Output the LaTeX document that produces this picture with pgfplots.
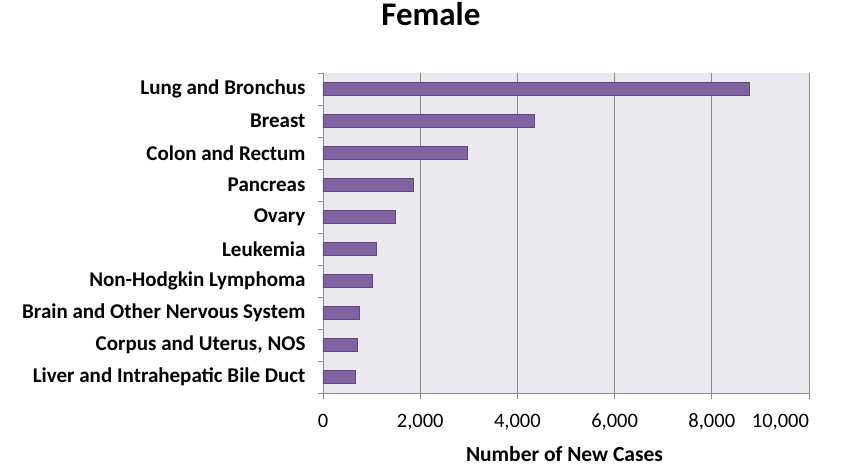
\documentclass[border=0pt]{standalone}
\usepackage{pgfplots}
\pgfplotsset{compat=1.18}
\usepackage{fontspec}
\setmainfont{Carlito}
\definecolor{barfill}{HTML}{8064A2}
\definecolor{baredge}{HTML}{5E4A7D}
\definecolor{plotbg}{HTML}{EBE8EF}
\definecolor{gridc}{HTML}{8A8A8A}
\begin{document}
\begin{tikzpicture}
\useasboundingbox (-323pt,-73pt) rectangle (530pt,393pt);
\begin{axis}[
  at={(0,0)}, anchor=south west,
  scale only axis, width=486pt, height=320pt,
  xbar, bar width=13pt,
  xmin=0, xmax=10000,
  ymin=-0.5, ymax=9.5,
  axis background/.style={fill=plotbg},
  axis x line*=bottom, axis y line*=left,
  axis line style={gridc, line width=0.8pt},
  xtick={0,2000,4000,6000,8000,10000},
  xticklabels={0,{2,000},{4,000},{6,000},{8,000},\makebox[0pt][r]{10,000}},
  scaled x ticks=false,
  xmajorgrids, major grid style={gridc, line width=0.8pt},
  xticklabel style={font=\fontsize{20.5}{20.5}\selectfont, anchor=base, yshift=-34pt},
  ytick={0,...,9},
  yticklabels={Liver and Intrahepatic Bile Duct, {Corpus and Uterus, NOS}, Brain and Other Nervous System, Non-Hodgkin Lymphoma, Leukemia, Ovary, Pancreas, Colon and Rectum, Breast, Lung and Bronchus},
  yticklabel style={font=\bfseries\fontsize{21}{21}\selectfont, xshift=-14pt},
  minor ytick={-0.5,0.5,...,9.5},
  major tick length=0pt,
  minor tick length=5pt,
  extra x ticks={0,2000,4000,6000,8000,10000}, extra x tick labels={},
  extra x tick style={major tick length=6pt, tick align=outside, tick style={gridc, line width=0.8pt}, grid=none},
  minor tick style={gridc, line width=0.8pt},
  tick align=outside,
  xlabel={Number of New Cases},
  xlabel style={font=\bfseries\fontsize{21.5}{21.5}\selectfont, at={(0.497,-0.19)}, anchor=center},
  title={Female},
  title style={font=\bfseries\fontsize{33}{33}\selectfont, at={(0.222,1.165)}, anchor=center},
  clip=false,
]
\addplot[fill=barfill, draw=baredge, line width=0.6pt] coordinates {
 (665,0) (714,1) (741,2) (1009,3) (1091,4) (1482,5) (1853,6) (2965,7) (4338,8) (8765,9)
};
\end{axis}
\end{tikzpicture}
\end{document}
